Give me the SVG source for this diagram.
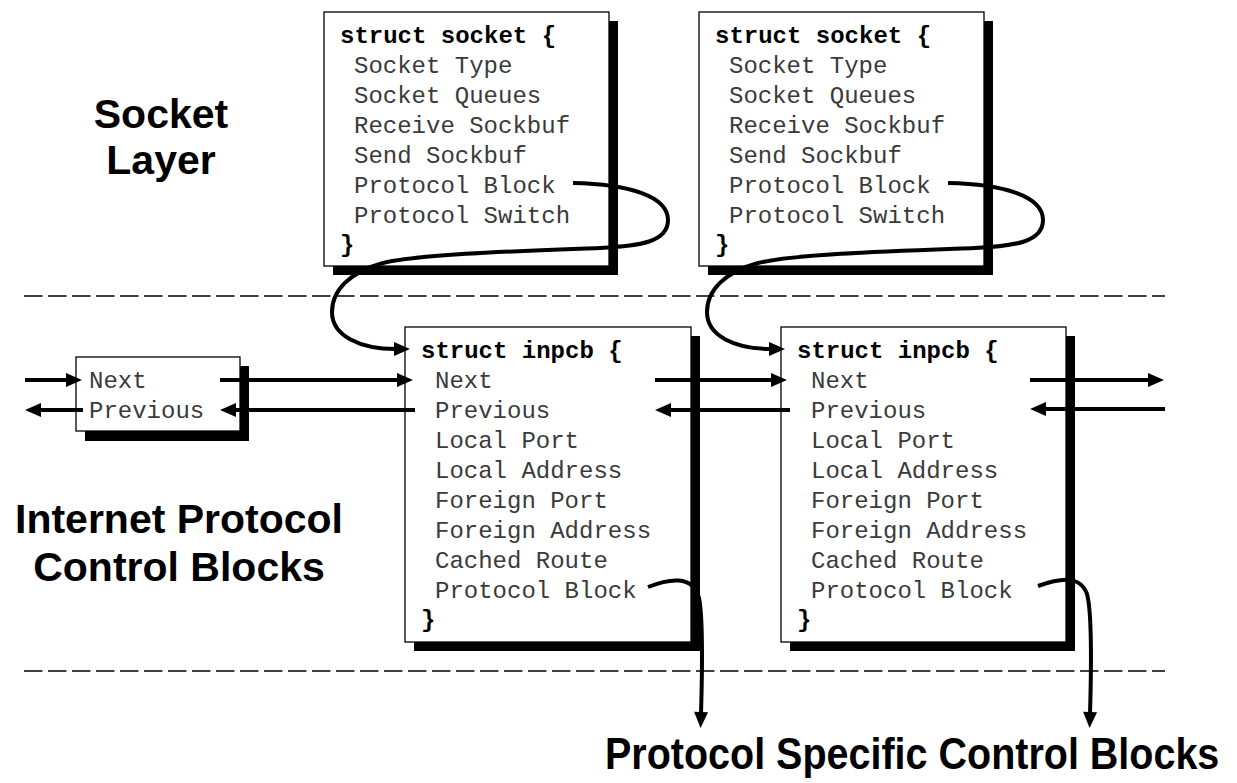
<svg xmlns="http://www.w3.org/2000/svg" width="1237" height="783" viewBox="0 0 1237 783">
<style>
.box{fill:#fff;stroke:#000;stroke-width:1.3}
.shadow{fill:#000}
.code{font-family:"Liberation Mono","DejaVu Sans Mono",monospace;font-size:24px;fill:#3a3a3a}
.bold{font-family:"Liberation Mono","DejaVu Sans Mono",monospace;font-size:24px;font-weight:bold;fill:#000}
.label{font-family:"Liberation Sans",Arial,sans-serif;font-size:41px;font-weight:bold;fill:#000;text-anchor:middle}
.conn{fill:none;stroke:#000;stroke-width:4}
.dash{fill:none;stroke:#000;stroke-width:1.4;stroke-dasharray:18.5 5.5}
</style>
<defs>
<marker id="ah" markerUnits="userSpaceOnUse" markerWidth="17" markerHeight="14" refX="2" refY="7" orient="auto" overflow="visible">
<path d="M0,0 L16,7 L0,14 z" fill="#000"/>
</marker>
</defs>
<rect width="1237" height="783" fill="#fff"/>

<g id="separators">
<line class="dash" x1="24" y1="296" x2="1165" y2="296"/>
<line class="dash" x1="24" y1="671" x2="1165" y2="671"/>
</g>

<g id="label-socket-layer">
<text class="label" x="161" y="128">Socket</text>
<text class="label" x="161" y="174">Layer</text>
</g>
<g id="label-inpcb">
<text class="label" x="179" y="533">Internet Protocol</text>
<text class="label" x="179" y="581">Control Blocks</text>
</g>
<g id="label-protocol-specific">
<text transform="translate(605,769) scale(1,1.12)" x="0" y="0" font-family="'Liberation Sans',Arial,sans-serif" font-size="39.5" font-weight="bold">Protocol Specific Control Blocks</text>
</g>

<g id="socket1">
<rect class="shadow" x="333" y="21" width="285" height="254"/>
<rect class="box" x="324" y="12" width="285" height="254"/>
<text class="bold" x="340" y="43">struct socket {</text>
<text class="code" x="354" y="73">Socket Type</text>
<text class="code" x="354" y="103">Socket Queues</text>
<text class="code" x="354" y="133">Receive Sockbuf</text>
<text class="code" x="354" y="163">Send Sockbuf</text>
<text class="code" x="354" y="193">Protocol Block</text>
<text class="code" x="354" y="223">Protocol Switch</text>
<text class="bold" x="340" y="252">}</text>
</g>

<g id="socket2">
<rect class="shadow" x="708" y="21" width="285" height="254"/>
<rect class="box" x="699" y="12" width="285" height="254"/>
<text class="bold" x="715" y="43">struct socket {</text>
<text class="code" x="729" y="73">Socket Type</text>
<text class="code" x="729" y="103">Socket Queues</text>
<text class="code" x="729" y="133">Receive Sockbuf</text>
<text class="code" x="729" y="163">Send Sockbuf</text>
<text class="code" x="729" y="193">Protocol Block</text>
<text class="code" x="729" y="223">Protocol Switch</text>
<text class="bold" x="715" y="252">}</text>
</g>

<g id="listhead">
<rect class="shadow" x="85" y="366" width="164" height="75"/>
<rect class="box" x="76" y="357" width="164" height="74"/>
<text class="code" x="89" y="388">Next</text>
<text class="code" x="89" y="418">Previous</text>
</g>

<g id="inpcb1">
<rect class="shadow" x="414" y="336" width="286" height="315"/>
<rect class="box" x="405" y="327" width="286" height="315"/>
<text class="bold" x="421" y="358">struct inpcb {</text>
<text class="code" x="435" y="388">Next</text>
<text class="code" x="435" y="418">Previous</text>
<text class="code" x="435" y="448">Local Port</text>
<text class="code" x="435" y="478">Local Address</text>
<text class="code" x="435" y="508">Foreign Port</text>
<text class="code" x="435" y="538">Foreign Address</text>
<text class="code" x="435" y="568">Cached Route</text>
<text class="code" x="435" y="598">Protocol Block</text>
<text class="bold" x="421" y="627">}</text>
</g>

<g id="inpcb2">
<rect class="shadow" x="790" y="336" width="285" height="315"/>
<rect class="box" x="781" y="327" width="285" height="315"/>
<text class="bold" x="797" y="358">struct inpcb {</text>
<text class="code" x="811" y="388">Next</text>
<text class="code" x="811" y="418">Previous</text>
<text class="code" x="811" y="448">Local Port</text>
<text class="code" x="811" y="478">Local Address</text>
<text class="code" x="811" y="508">Foreign Port</text>
<text class="code" x="811" y="538">Foreign Address</text>
<text class="code" x="811" y="568">Cached Route</text>
<text class="code" x="811" y="598">Protocol Block</text>
<text class="bold" x="797" y="627">}</text>
</g>

<g id="connectors">
<path class="conn" marker-end="url(#ah)" d="M573,183 C628,184 668,196 668,220 C668,242 640,246 600,248 C520,251 420,254 383,263 C350,272 332,290 332,312 C332,336 360,349 396,349"/>
<path class="conn" marker-end="url(#ah)" d="M948,183 C1003,184 1043,196 1043,220 C1043,242 1015,246 975,248 C895,251 795,254 758,263 C725,272 707,290 707,312 C707,336 735,349 771,349"/>
<path class="conn" marker-end="url(#ah)" d="M648,587 C668,579 693,574 699,598 C703,618 702,680 701,714"/>
<path class="conn" marker-end="url(#ah)" d="M1038,586 C1058,579 1080,574 1087,594 C1092,612 1091,680 1090,714"/>
<path class="conn" marker-end="url(#ah)" d="M25,380 H68"/>
<path class="conn" marker-end="url(#ah)" d="M83,410 H39"/>
<path class="conn" marker-end="url(#ah)" d="M220,380 H399"/>
<path class="conn" marker-end="url(#ah)" d="M415,410 H234"/>
<path class="conn" marker-end="url(#ah)" d="M655,380 H773"/>
<path class="conn" marker-end="url(#ah)" d="M790,410 H669"/>
<path class="conn" marker-end="url(#ah)" d="M1030,380 H1150"/>
<path class="conn" marker-end="url(#ah)" d="M1165,409 H1044"/>
</g>
</svg>
